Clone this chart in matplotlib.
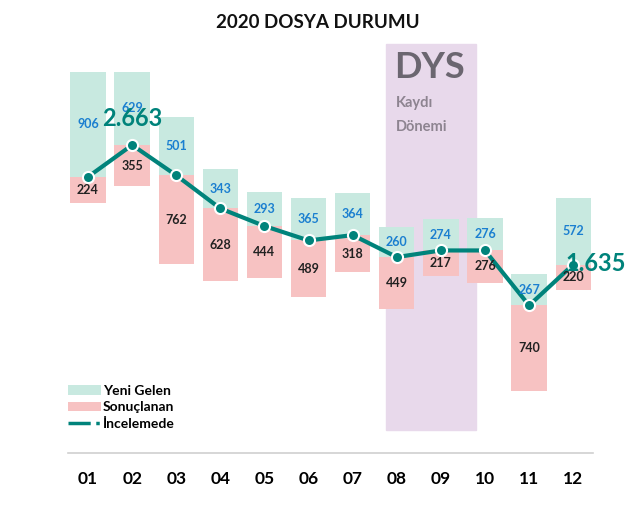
import matplotlib
matplotlib.use("Agg")
import matplotlib.pyplot as plt
from matplotlib.patches import Patch
from matplotlib.lines import Line2D

months = ["01", "02", "03", "04", "05", "06", "07", "08", "09", "10", "11", "12"]
yeni_gelen = [906, 629, 501, 343, 293, 365, 364, 260, 274, 276, 267, 572]
sonuclanan = [224, 355, 762, 628, 444, 489, 318, 449, 217, 276, 740, 220]
incelemede = [2389, 2663, 2402, 2117, 1966, 1842, 1888, 1699, 1756, 1756, 1283, 1635]

plt.rcParams['font.family'] = ['Lato', 'DejaVu Sans']

W, H = 635, 517
fig = plt.figure(figsize=(W / 100, H / 100), dpi=100)
left_px, right_px, top_px, bot_px = 62, 612, 40, 453
ax = fig.add_axes([left_px / W, 1 - bot_px / H, (right_px - left_px) / W, (bot_px - top_px) / H])

x = list(range(1, len(months) + 1))
green = "#c8e9e0"
pink = "#f7c2c2"
teal = "#00837b"

# DYS shaded period
ax.axvspan(7.75, 9.8, ymin=0.056, ymax=0.99, color="#e8d9eb", zorder=0)
ax.text(7.95, 3330, "DYS", fontsize=26, fontweight="bold", color="#6b6670", va="center", ha="left")
ax.text(7.98, 3020, "Kaydı", fontsize=10.5, fontweight="bold", color="#8d8490", va="center", ha="left")
ax.text(7.98, 2820, "Dönemi", fontsize=10.5, fontweight="bold", color="#8d8490", va="center", ha="left")

bw = 0.8
ax.bar(x, yeni_gelen, bottom=incelemede, width=bw, color=green, zorder=1)
bottoms = [l - s for l, s in zip(incelemede, sonuclanan)]
ax.bar(x, sonuclanan, bottom=bottoms, width=bw, color=pink, zorder=1)

for xi, l, g, s in zip(x, incelemede, yeni_gelen, sonuclanan):
    ax.text(xi, l + g / 2, str(g), ha="center", va="center", fontsize=9,
            fontweight="bold", color="#1b7fd0", zorder=4)
    ax.text(xi, l - s / 2, str(s), ha="center", va="center", fontsize=9,
            fontweight="bold", color="#222222", zorder=4)

ax.plot(x, incelemede, color=teal, lw=3, marker="o", markersize=8,
        markerfacecolor=teal, markeredgecolor="white", markeredgewidth=1.5, zorder=3)

ax.text(2.0, incelemede[1] + 230, "2.663", ha="center", va="center", fontsize=17,
        fontweight="bold", color=teal, zorder=5)
ax.text(12.5, incelemede[11] + 10, "1.635", ha="center", va="center", fontsize=17,
        fontweight="bold", color=teal, zorder=5)

ax.set_xlim(0.41, 12.88)
ax.set_ylim(14, 3566)
ax.set_yticks([])
ax.set_xticks(x)
ax.set_xticklabels(months, fontsize=12.5, fontweight="bold")
ax.tick_params(axis="x", length=0, pad=13)
for s in ["top", "left", "right"]:
    ax.spines[s].set_visible(False)
ax.spines["bottom"].set_color("#d0d0d0")
ax.spines["bottom"].set_linewidth(1.2)
ax.spines["bottom"].set_bounds(0.55, 12.45)
ax.patch.set_alpha(0)

handles = [Patch(facecolor=green, edgecolor="none"),
           Patch(facecolor=pink, edgecolor="none"),
           Line2D([0], [0], color=teal, lw=2.5, linestyle="-.")]
leg = fig.legend(handles, ["Yeni Gelen", "Sonuçlanan", "İncelemede"],
                 loc="lower left", bbox_to_anchor=(58 / W, 1 - 440 / H),
                 frameon=False, fontsize=10, handlelength=2.4, handleheight=0.7,
                 labelspacing=0.35, handletextpad=0.15, borderpad=0.2)
for t in leg.get_texts():
    t.set_fontweight("bold")

fig.text(318 / W, 1 - 22 / H, "2020 DOSYA DURUMU", ha="center", va="center",
         fontsize=13.5, fontweight="bold", color="#111111")

fig.savefig("out.png", dpi=100)
